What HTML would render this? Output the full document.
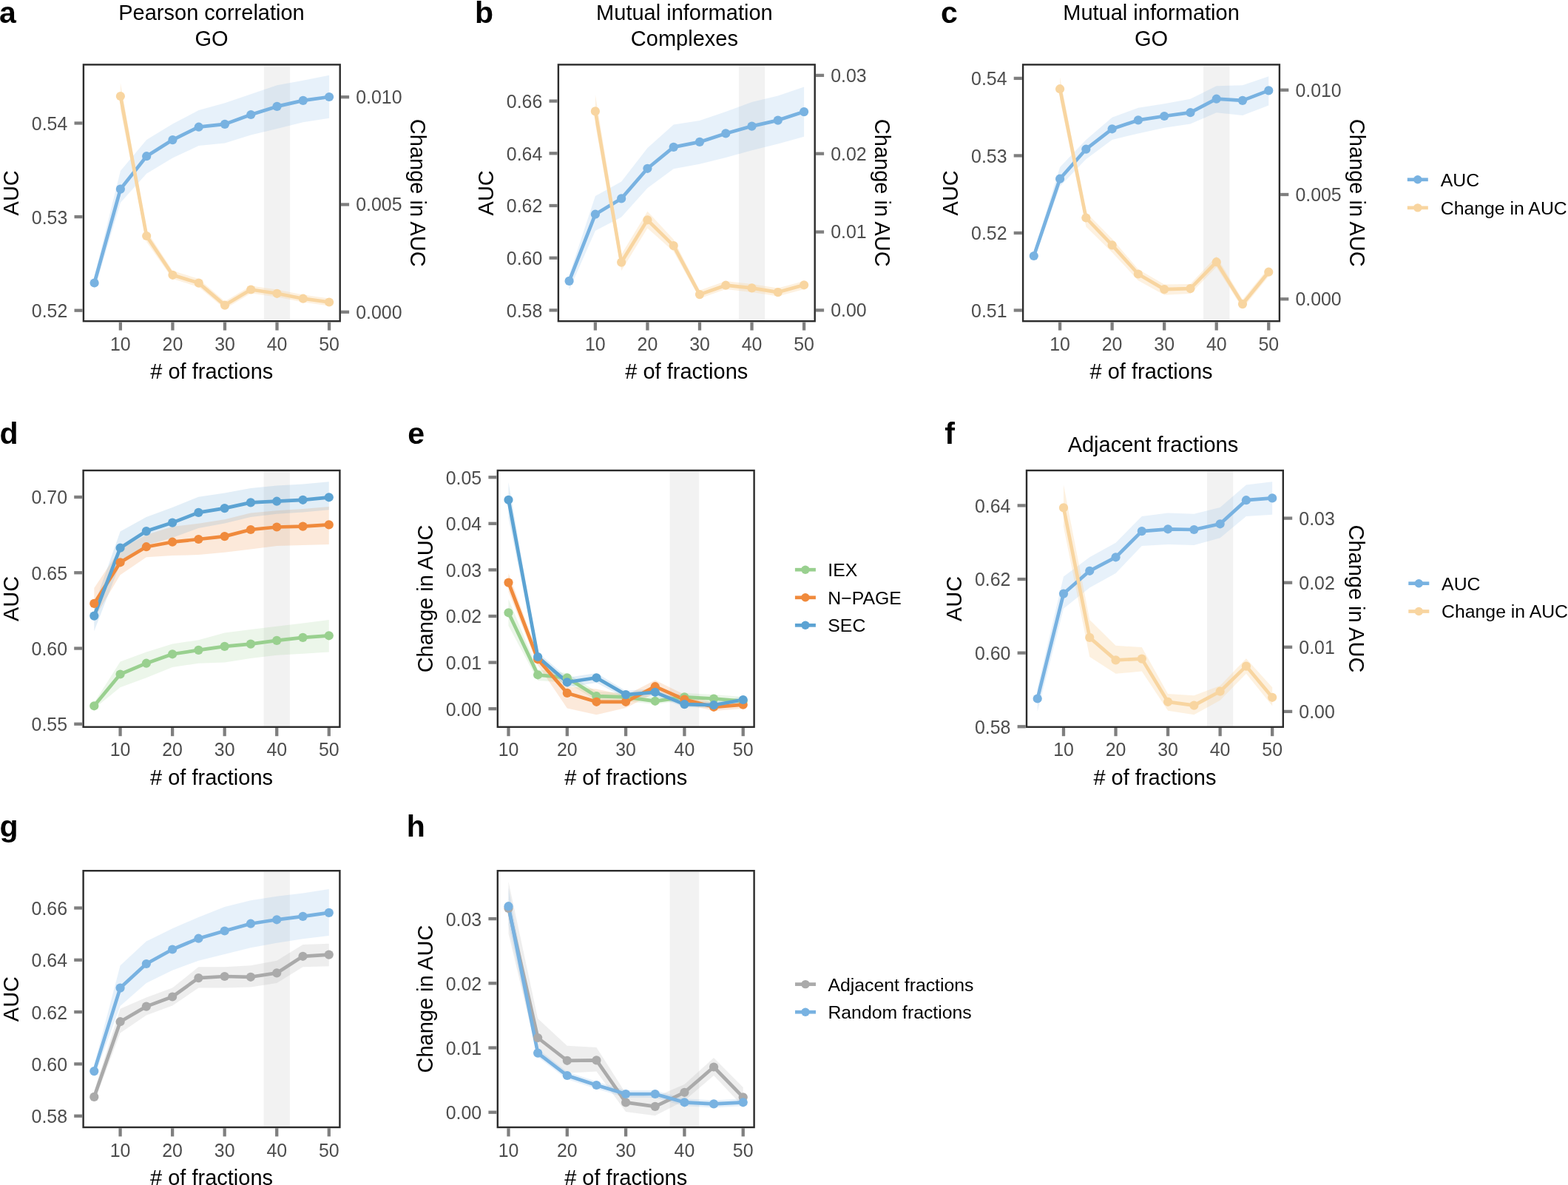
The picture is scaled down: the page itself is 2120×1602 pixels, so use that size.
<!DOCTYPE html>
<html><head><meta charset="utf-8"><title>Figure</title>
<style>html,body{margin:0;padding:0;background:#fff;}body{width:2120px;height:1602px;overflow:hidden;}svg{display:block;}</style>
</head><body>
<svg width="2120" height="1602" viewBox="0 0 2120 1602" font-family="'Liberation Sans', Arial, Helvetica, sans-serif"><rect x="356.89" y="88.6" width="35.28" height="344.4" fill="#f2f2f2"/>
<path d="M127.6,374 L162.88,231 L198.15,189 L233.43,167.4 L268.7,149 L303.98,139.3 L339.25,127.3 L374.52,115.3 L409.8,108.7 L445.07,101.8 L445.07,159.8 L409.8,165.2 L374.52,173.9 L339.25,182.6 L303.98,193.5 L268.7,197 L233.43,213.5 L198.15,234.7 L162.88,274 L127.6,392Z" fill="#78b2e1" fill-opacity="0.18"/>
<path d="M162.88,112 L198.15,312 L233.43,366 L268.7,377 L303.98,407.5 L339.25,386.5 L374.52,391.5 L409.8,398.5 L445.07,403.5 L445.07,413.5 L409.8,408.5 L374.52,401.5 L339.25,396.5 L303.98,417.5 L268.7,388 L233.43,377 L198.15,327 L162.88,148Z" fill="#f8d5a0" fill-opacity="0.32"/>
<path d="M127.6,382.5 L162.88,255.6 L198.15,211.2 L233.43,189.1 L268.7,171.7 L303.98,167.9 L339.25,155 L374.52,143.9 L409.8,135.9 L445.07,131" fill="none" stroke="#78b2e1" stroke-width="4.7" stroke-linejoin="round" stroke-linecap="butt"/>
<path d="M162.88,130 L198.15,319 L233.43,371.8 L268.7,382.6 L303.98,412.6 L339.25,391.5 L374.52,396.8 L409.8,403.7 L445.07,408.5" fill="none" stroke="#f8d5a0" stroke-width="4.7" stroke-linejoin="round" stroke-linecap="butt"/>
<circle cx="127.6" cy="382.5" r="6.1" fill="#78b2e1"/>
<circle cx="162.88" cy="255.6" r="6.1" fill="#78b2e1"/>
<circle cx="198.15" cy="211.2" r="6.1" fill="#78b2e1"/>
<circle cx="233.43" cy="189.1" r="6.1" fill="#78b2e1"/>
<circle cx="268.7" cy="171.7" r="6.1" fill="#78b2e1"/>
<circle cx="303.98" cy="167.9" r="6.1" fill="#78b2e1"/>
<circle cx="339.25" cy="155" r="6.1" fill="#78b2e1"/>
<circle cx="374.52" cy="143.9" r="6.1" fill="#78b2e1"/>
<circle cx="409.8" cy="135.9" r="6.1" fill="#78b2e1"/>
<circle cx="445.07" cy="131" r="6.1" fill="#78b2e1"/>
<circle cx="162.88" cy="130" r="6.1" fill="#f8d5a0"/>
<circle cx="198.15" cy="319" r="6.1" fill="#f8d5a0"/>
<circle cx="233.43" cy="371.8" r="6.1" fill="#f8d5a0"/>
<circle cx="268.7" cy="382.6" r="6.1" fill="#f8d5a0"/>
<circle cx="303.98" cy="412.6" r="6.1" fill="#f8d5a0"/>
<circle cx="339.25" cy="391.5" r="6.1" fill="#f8d5a0"/>
<circle cx="374.52" cy="396.8" r="6.1" fill="#f8d5a0"/>
<circle cx="409.8" cy="403.7" r="6.1" fill="#f8d5a0"/>
<circle cx="445.07" cy="408.5" r="6.1" fill="#f8d5a0"/>
<rect x="112.9" y="87.4" width="346.8" height="346.8" fill="none" stroke="#2b2b2b" stroke-width="2.4"/>
<line x1="162.88" y1="435.4" x2="162.88" y2="446.6" stroke="#7f7f7f" stroke-width="4.3"/>
<text x="162.88" y="473.8" font-size="24.9" fill="#4d4d4d" text-anchor="middle">10</text>
<line x1="233.43" y1="435.4" x2="233.43" y2="446.6" stroke="#7f7f7f" stroke-width="4.3"/>
<text x="233.43" y="473.8" font-size="24.9" fill="#4d4d4d" text-anchor="middle">20</text>
<line x1="303.98" y1="435.4" x2="303.98" y2="446.6" stroke="#7f7f7f" stroke-width="4.3"/>
<text x="303.98" y="473.8" font-size="24.9" fill="#4d4d4d" text-anchor="middle">30</text>
<line x1="374.52" y1="435.4" x2="374.52" y2="446.6" stroke="#7f7f7f" stroke-width="4.3"/>
<text x="374.52" y="473.8" font-size="24.9" fill="#4d4d4d" text-anchor="middle">40</text>
<line x1="445.07" y1="435.4" x2="445.07" y2="446.6" stroke="#7f7f7f" stroke-width="4.3"/>
<text x="445.07" y="473.8" font-size="24.9" fill="#4d4d4d" text-anchor="middle">50</text>
<text x="286.3" y="512.1" font-size="29" fill="#000" text-anchor="middle"># of fractions</text>
<line x1="100.5" y1="419.7" x2="111.7" y2="419.7" stroke="#7f7f7f" stroke-width="4.3"/>
<text x="91.3" y="429.1" font-size="24.9" fill="#4d4d4d" text-anchor="end">0.52</text>
<line x1="100.5" y1="293.1" x2="111.7" y2="293.1" stroke="#7f7f7f" stroke-width="4.3"/>
<text x="91.3" y="302.5" font-size="24.9" fill="#4d4d4d" text-anchor="end">0.53</text>
<line x1="100.5" y1="166.5" x2="111.7" y2="166.5" stroke="#7f7f7f" stroke-width="4.3"/>
<text x="91.3" y="175.9" font-size="24.9" fill="#4d4d4d" text-anchor="end">0.54</text>
<line x1="460.9" y1="421.8" x2="472.1" y2="421.8" stroke="#7f7f7f" stroke-width="4.3"/>
<text x="481.2" y="430.7" font-size="24.9" fill="#4d4d4d">0.000</text>
<line x1="460.9" y1="276.5" x2="472.1" y2="276.5" stroke="#7f7f7f" stroke-width="4.3"/>
<text x="481.2" y="285.4" font-size="24.9" fill="#4d4d4d">0.005</text>
<line x1="460.9" y1="131.2" x2="472.1" y2="131.2" stroke="#7f7f7f" stroke-width="4.3"/>
<text x="481.2" y="140.1" font-size="24.9" fill="#4d4d4d">0.010</text>
<text x="24.8" y="260.8" font-size="29" fill="#000" text-anchor="middle" transform="rotate(-90 24.8 260.8)">AUC</text>
<text x="555.3" y="260.8" font-size="29" fill="#000" text-anchor="middle" transform="rotate(90 555.3 260.8)">Change in AUC</text>
<text x="-1" y="30.5" font-size="41" fill="#000" font-weight="bold">a</text>
<text x="286" y="26.7" font-size="29" fill="#000" text-anchor="middle">Pearson correlation</text>
<text x="286" y="61.6" font-size="29" fill="#000" text-anchor="middle">GO</text>
<rect x="998.89" y="88.6" width="35.27" height="344.4" fill="#f2f2f2"/>
<path d="M769.6,372 L804.88,265.1 L840.15,245.6 L875.42,200 L910.7,168.5 L945.98,163 L981.25,151.1 L1016.52,138 L1051.8,129.4 L1087.08,117.4 L1087.08,184.8 L1051.8,194.5 L1016.52,203.2 L981.25,213 L945.98,221.7 L910.7,228.2 L875.42,254.3 L840.15,293.4 L804.88,311.9 L769.6,392Z" fill="#78b2e1" fill-opacity="0.18"/>
<path d="M804.88,128.3 L840.15,344 L875.42,285.8 L910.7,323.8 L945.98,392.5 L981.25,380 L1016.52,384 L1051.8,389.5 L1087.08,380 L1087.08,391 L1051.8,400.5 L1016.52,395 L981.25,391 L945.98,403.5 L910.7,340 L875.42,308.6 L840.15,366 L804.88,168Z" fill="#f8d5a0" fill-opacity="0.32"/>
<path d="M769.6,379.9 L804.88,289.7 L840.15,268.4 L875.42,227.8 L910.7,198.9 L945.98,191.9 L981.25,180.4 L1016.52,170.6 L1051.8,162.6 L1087.08,151.1" fill="none" stroke="#78b2e1" stroke-width="4.7" stroke-linejoin="round" stroke-linecap="butt"/>
<path d="M804.88,150.4 L840.15,354.6 L875.42,297.3 L910.7,332.1 L945.98,398.1 L981.25,385.7 L1016.52,389.4 L1051.8,395.1 L1087.08,385.3" fill="none" stroke="#f8d5a0" stroke-width="4.7" stroke-linejoin="round" stroke-linecap="butt"/>
<circle cx="769.6" cy="379.9" r="6.1" fill="#78b2e1"/>
<circle cx="804.88" cy="289.7" r="6.1" fill="#78b2e1"/>
<circle cx="840.15" cy="268.4" r="6.1" fill="#78b2e1"/>
<circle cx="875.42" cy="227.8" r="6.1" fill="#78b2e1"/>
<circle cx="910.7" cy="198.9" r="6.1" fill="#78b2e1"/>
<circle cx="945.98" cy="191.9" r="6.1" fill="#78b2e1"/>
<circle cx="981.25" cy="180.4" r="6.1" fill="#78b2e1"/>
<circle cx="1016.52" cy="170.6" r="6.1" fill="#78b2e1"/>
<circle cx="1051.8" cy="162.6" r="6.1" fill="#78b2e1"/>
<circle cx="1087.08" cy="151.1" r="6.1" fill="#78b2e1"/>
<circle cx="804.88" cy="150.4" r="6.1" fill="#f8d5a0"/>
<circle cx="840.15" cy="354.6" r="6.1" fill="#f8d5a0"/>
<circle cx="875.42" cy="297.3" r="6.1" fill="#f8d5a0"/>
<circle cx="910.7" cy="332.1" r="6.1" fill="#f8d5a0"/>
<circle cx="945.98" cy="398.1" r="6.1" fill="#f8d5a0"/>
<circle cx="981.25" cy="385.7" r="6.1" fill="#f8d5a0"/>
<circle cx="1016.52" cy="389.4" r="6.1" fill="#f8d5a0"/>
<circle cx="1051.8" cy="395.1" r="6.1" fill="#f8d5a0"/>
<circle cx="1087.08" cy="385.3" r="6.1" fill="#f8d5a0"/>
<rect x="754.9" y="87.4" width="346.8" height="346.8" fill="none" stroke="#2b2b2b" stroke-width="2.4"/>
<line x1="804.88" y1="435.4" x2="804.88" y2="446.6" stroke="#7f7f7f" stroke-width="4.3"/>
<text x="804.88" y="473.8" font-size="24.9" fill="#4d4d4d" text-anchor="middle">10</text>
<line x1="875.42" y1="435.4" x2="875.42" y2="446.6" stroke="#7f7f7f" stroke-width="4.3"/>
<text x="875.42" y="473.8" font-size="24.9" fill="#4d4d4d" text-anchor="middle">20</text>
<line x1="945.98" y1="435.4" x2="945.98" y2="446.6" stroke="#7f7f7f" stroke-width="4.3"/>
<text x="945.98" y="473.8" font-size="24.9" fill="#4d4d4d" text-anchor="middle">30</text>
<line x1="1016.52" y1="435.4" x2="1016.52" y2="446.6" stroke="#7f7f7f" stroke-width="4.3"/>
<text x="1016.52" y="473.8" font-size="24.9" fill="#4d4d4d" text-anchor="middle">40</text>
<line x1="1087.08" y1="435.4" x2="1087.08" y2="446.6" stroke="#7f7f7f" stroke-width="4.3"/>
<text x="1087.08" y="473.8" font-size="24.9" fill="#4d4d4d" text-anchor="middle">50</text>
<text x="928.3" y="512.1" font-size="29" fill="#000" text-anchor="middle"># of fractions</text>
<line x1="742.5" y1="419.4" x2="753.7" y2="419.4" stroke="#7f7f7f" stroke-width="4.3"/>
<text x="733.3" y="428.8" font-size="24.9" fill="#4d4d4d" text-anchor="end">0.58</text>
<line x1="742.5" y1="348.7" x2="753.7" y2="348.7" stroke="#7f7f7f" stroke-width="4.3"/>
<text x="733.3" y="358.1" font-size="24.9" fill="#4d4d4d" text-anchor="end">0.60</text>
<line x1="742.5" y1="278" x2="753.7" y2="278" stroke="#7f7f7f" stroke-width="4.3"/>
<text x="733.3" y="287.4" font-size="24.9" fill="#4d4d4d" text-anchor="end">0.62</text>
<line x1="742.5" y1="207.3" x2="753.7" y2="207.3" stroke="#7f7f7f" stroke-width="4.3"/>
<text x="733.3" y="216.7" font-size="24.9" fill="#4d4d4d" text-anchor="end">0.64</text>
<line x1="742.5" y1="136.6" x2="753.7" y2="136.6" stroke="#7f7f7f" stroke-width="4.3"/>
<text x="733.3" y="146" font-size="24.9" fill="#4d4d4d" text-anchor="end">0.66</text>
<line x1="1102.9" y1="419.4" x2="1114.1" y2="419.4" stroke="#7f7f7f" stroke-width="4.3"/>
<text x="1123.2" y="428.3" font-size="24.9" fill="#4d4d4d">0.00</text>
<line x1="1102.9" y1="313.57" x2="1114.1" y2="313.57" stroke="#7f7f7f" stroke-width="4.3"/>
<text x="1123.2" y="322.47" font-size="24.9" fill="#4d4d4d">0.01</text>
<line x1="1102.9" y1="207.73" x2="1114.1" y2="207.73" stroke="#7f7f7f" stroke-width="4.3"/>
<text x="1123.2" y="216.63" font-size="24.9" fill="#4d4d4d">0.02</text>
<line x1="1102.9" y1="101.9" x2="1114.1" y2="101.9" stroke="#7f7f7f" stroke-width="4.3"/>
<text x="1123.2" y="110.8" font-size="24.9" fill="#4d4d4d">0.03</text>
<text x="667" y="260.8" font-size="29" fill="#000" text-anchor="middle" transform="rotate(-90 667 260.8)">AUC</text>
<text x="1183" y="260.8" font-size="29" fill="#000" text-anchor="middle" transform="rotate(90 1183 260.8)">Change in AUC</text>
<text x="642" y="30.5" font-size="41" fill="#000" font-weight="bold">b</text>
<text x="925.4" y="26.7" font-size="29" fill="#000" text-anchor="middle">Mutual information</text>
<text x="925.4" y="61.6" font-size="29" fill="#000" text-anchor="middle">Complexes</text>
<rect x="1627.09" y="88.6" width="35.28" height="344.4" fill="#f2f2f2"/>
<path d="M1397.8,341 L1433.08,226 L1468.35,189.1 L1503.62,158.7 L1538.9,145.7 L1574.17,140.2 L1609.45,133.7 L1644.72,116.3 L1680,115.2 L1715.27,103.3 L1715.27,142.4 L1680,156.1 L1644.72,152.2 L1609.45,167.4 L1574.17,172.8 L1538.9,180.4 L1503.62,189.1 L1468.35,215.2 L1433.08,252.1 L1397.8,351Z" fill="#78b2e1" fill-opacity="0.18"/>
<path d="M1433.08,104.4 L1468.35,286.9 L1503.62,322.7 L1538.9,364 L1574.17,384.6 L1609.45,384 L1644.72,346.6 L1680,405 L1715.27,362 L1715.27,373.5 L1680,417 L1644.72,361 L1609.45,397 L1574.17,398.7 L1538.9,379.2 L1503.62,341.2 L1468.35,306.4 L1433.08,134Z" fill="#f8d5a0" fill-opacity="0.32"/>
<path d="M1397.8,346 L1433.08,241.7 L1468.35,201.7 L1503.62,174.3 L1538.9,162.4 L1574.17,157 L1609.45,152.2 L1644.72,133.7 L1680,135.9 L1715.27,122.4" fill="none" stroke="#78b2e1" stroke-width="4.7" stroke-linejoin="round" stroke-linecap="butt"/>
<path d="M1433.08,120.2 L1468.35,294.5 L1503.62,331.4 L1538.9,370.5 L1574.17,391.1 L1609.45,390.1 L1644.72,354.2 L1680,411.1 L1715.27,367.7" fill="none" stroke="#f8d5a0" stroke-width="4.7" stroke-linejoin="round" stroke-linecap="butt"/>
<circle cx="1397.8" cy="346" r="6.1" fill="#78b2e1"/>
<circle cx="1433.08" cy="241.7" r="6.1" fill="#78b2e1"/>
<circle cx="1468.35" cy="201.7" r="6.1" fill="#78b2e1"/>
<circle cx="1503.62" cy="174.3" r="6.1" fill="#78b2e1"/>
<circle cx="1538.9" cy="162.4" r="6.1" fill="#78b2e1"/>
<circle cx="1574.17" cy="157" r="6.1" fill="#78b2e1"/>
<circle cx="1609.45" cy="152.2" r="6.1" fill="#78b2e1"/>
<circle cx="1644.72" cy="133.7" r="6.1" fill="#78b2e1"/>
<circle cx="1680" cy="135.9" r="6.1" fill="#78b2e1"/>
<circle cx="1715.27" cy="122.4" r="6.1" fill="#78b2e1"/>
<circle cx="1433.08" cy="120.2" r="6.1" fill="#f8d5a0"/>
<circle cx="1468.35" cy="294.5" r="6.1" fill="#f8d5a0"/>
<circle cx="1503.62" cy="331.4" r="6.1" fill="#f8d5a0"/>
<circle cx="1538.9" cy="370.5" r="6.1" fill="#f8d5a0"/>
<circle cx="1574.17" cy="391.1" r="6.1" fill="#f8d5a0"/>
<circle cx="1609.45" cy="390.1" r="6.1" fill="#f8d5a0"/>
<circle cx="1644.72" cy="354.2" r="6.1" fill="#f8d5a0"/>
<circle cx="1680" cy="411.1" r="6.1" fill="#f8d5a0"/>
<circle cx="1715.27" cy="367.7" r="6.1" fill="#f8d5a0"/>
<rect x="1383.1" y="87.4" width="346.8" height="346.8" fill="none" stroke="#2b2b2b" stroke-width="2.4"/>
<line x1="1433.08" y1="435.4" x2="1433.08" y2="446.6" stroke="#7f7f7f" stroke-width="4.3"/>
<text x="1433.08" y="473.8" font-size="24.9" fill="#4d4d4d" text-anchor="middle">10</text>
<line x1="1503.62" y1="435.4" x2="1503.62" y2="446.6" stroke="#7f7f7f" stroke-width="4.3"/>
<text x="1503.62" y="473.8" font-size="24.9" fill="#4d4d4d" text-anchor="middle">20</text>
<line x1="1574.17" y1="435.4" x2="1574.17" y2="446.6" stroke="#7f7f7f" stroke-width="4.3"/>
<text x="1574.17" y="473.8" font-size="24.9" fill="#4d4d4d" text-anchor="middle">30</text>
<line x1="1644.72" y1="435.4" x2="1644.72" y2="446.6" stroke="#7f7f7f" stroke-width="4.3"/>
<text x="1644.72" y="473.8" font-size="24.9" fill="#4d4d4d" text-anchor="middle">40</text>
<line x1="1715.27" y1="435.4" x2="1715.27" y2="446.6" stroke="#7f7f7f" stroke-width="4.3"/>
<text x="1715.27" y="473.8" font-size="24.9" fill="#4d4d4d" text-anchor="middle">50</text>
<text x="1556.5" y="512.1" font-size="29" fill="#000" text-anchor="middle"># of fractions</text>
<line x1="1370.7" y1="419.5" x2="1381.9" y2="419.5" stroke="#7f7f7f" stroke-width="4.3"/>
<text x="1361.5" y="428.9" font-size="24.9" fill="#4d4d4d" text-anchor="end">0.51</text>
<line x1="1370.7" y1="314.97" x2="1381.9" y2="314.97" stroke="#7f7f7f" stroke-width="4.3"/>
<text x="1361.5" y="324.37" font-size="24.9" fill="#4d4d4d" text-anchor="end">0.52</text>
<line x1="1370.7" y1="210.43" x2="1381.9" y2="210.43" stroke="#7f7f7f" stroke-width="4.3"/>
<text x="1361.5" y="219.83" font-size="24.9" fill="#4d4d4d" text-anchor="end">0.53</text>
<line x1="1370.7" y1="105.9" x2="1381.9" y2="105.9" stroke="#7f7f7f" stroke-width="4.3"/>
<text x="1361.5" y="115.3" font-size="24.9" fill="#4d4d4d" text-anchor="end">0.54</text>
<line x1="1731.1" y1="404.3" x2="1742.3" y2="404.3" stroke="#7f7f7f" stroke-width="4.3"/>
<text x="1751.4" y="413.2" font-size="24.9" fill="#4d4d4d">0.000</text>
<line x1="1731.1" y1="263" x2="1742.3" y2="263" stroke="#7f7f7f" stroke-width="4.3"/>
<text x="1751.4" y="271.9" font-size="24.9" fill="#4d4d4d">0.005</text>
<line x1="1731.1" y1="121.7" x2="1742.3" y2="121.7" stroke="#7f7f7f" stroke-width="4.3"/>
<text x="1751.4" y="130.6" font-size="24.9" fill="#4d4d4d">0.010</text>
<text x="1295.5" y="260.8" font-size="29" fill="#000" text-anchor="middle" transform="rotate(-90 1295.5 260.8)">AUC</text>
<text x="1824.7" y="260.8" font-size="29" fill="#000" text-anchor="middle" transform="rotate(90 1824.7 260.8)">Change in AUC</text>
<text x="1272" y="30.5" font-size="41" fill="#000" font-weight="bold">c</text>
<text x="1556.5" y="26.7" font-size="29" fill="#000" text-anchor="middle">Mutual information</text>
<text x="1556.5" y="61.6" font-size="29" fill="#000" text-anchor="middle">GO</text>
<rect x="356.59" y="637.2" width="35.28" height="344.4" fill="#f2f2f2"/>
<path d="M127.3,950 L162.57,894.5 L197.85,881.5 L233.12,870.6 L268.4,865.2 L303.68,855.4 L338.95,851.1 L374.22,846.7 L409.5,842.4 L444.77,838 L444.77,881.5 L409.5,883.7 L374.22,885.8 L338.95,890 L303.68,895.6 L268.4,896.7 L233.12,902.1 L197.85,916.3 L162.57,929.3 L127.3,958Z" fill="#99d08f" fill-opacity="0.19"/>
<path d="M127.3,795 L162.57,742 L197.85,722.9 L233.12,712 L268.4,707.7 L303.68,702.3 L338.95,693.6 L374.22,690.3 L409.5,688.1 L444.77,684.9 L444.77,735.9 L409.5,737 L374.22,738.1 L338.95,742.5 L303.68,746.8 L268.4,750 L233.12,751.1 L197.85,753.3 L162.57,777.2 L127.3,836Z" fill="#f08a3c" fill-opacity="0.19"/>
<path d="M127.3,818.5 L162.57,718.6 L197.85,699 L233.12,686 L268.4,671.8 L303.68,666.4 L338.95,659.9 L374.22,656.6 L409.5,654.5 L444.77,651.2 L444.77,689.2 L409.5,692.5 L374.22,694.7 L338.95,699 L303.68,707.5 L268.4,714 L233.12,727 L197.85,737 L162.57,762 L127.3,853.2Z" fill="#5ca3d3" fill-opacity="0.18"/>
<path d="M127.3,954.3 L162.57,911.5 L197.85,896.7 L233.12,884.3 L268.4,878.9 L303.68,873.9 L338.95,870.6 L374.22,865.9 L409.5,861.9 L444.77,859.3" fill="none" stroke="#99d08f" stroke-width="4.7" stroke-linejoin="round" stroke-linecap="butt"/>
<path d="M127.3,815.9 L162.57,760.3 L197.85,739.2 L233.12,732.7 L268.4,729 L303.68,725.1 L338.95,716 L374.22,712.5 L409.5,711.6 L444.77,709.4" fill="none" stroke="#f08a3c" stroke-width="4.7" stroke-linejoin="round" stroke-linecap="butt"/>
<path d="M127.3,832.6 L162.57,740.7 L197.85,718.1 L233.12,706.6 L268.4,692.9 L303.68,687.1 L338.95,679.4 L374.22,677.7 L409.5,675.8 L444.77,672.3" fill="none" stroke="#5ca3d3" stroke-width="4.7" stroke-linejoin="round" stroke-linecap="butt"/>
<circle cx="127.3" cy="954.3" r="6.1" fill="#99d08f"/>
<circle cx="162.57" cy="911.5" r="6.1" fill="#99d08f"/>
<circle cx="197.85" cy="896.7" r="6.1" fill="#99d08f"/>
<circle cx="233.12" cy="884.3" r="6.1" fill="#99d08f"/>
<circle cx="268.4" cy="878.9" r="6.1" fill="#99d08f"/>
<circle cx="303.68" cy="873.9" r="6.1" fill="#99d08f"/>
<circle cx="338.95" cy="870.6" r="6.1" fill="#99d08f"/>
<circle cx="374.22" cy="865.9" r="6.1" fill="#99d08f"/>
<circle cx="409.5" cy="861.9" r="6.1" fill="#99d08f"/>
<circle cx="444.77" cy="859.3" r="6.1" fill="#99d08f"/>
<circle cx="127.3" cy="815.9" r="6.1" fill="#f08a3c"/>
<circle cx="162.57" cy="760.3" r="6.1" fill="#f08a3c"/>
<circle cx="197.85" cy="739.2" r="6.1" fill="#f08a3c"/>
<circle cx="233.12" cy="732.7" r="6.1" fill="#f08a3c"/>
<circle cx="268.4" cy="729" r="6.1" fill="#f08a3c"/>
<circle cx="303.68" cy="725.1" r="6.1" fill="#f08a3c"/>
<circle cx="338.95" cy="716" r="6.1" fill="#f08a3c"/>
<circle cx="374.22" cy="712.5" r="6.1" fill="#f08a3c"/>
<circle cx="409.5" cy="711.6" r="6.1" fill="#f08a3c"/>
<circle cx="444.77" cy="709.4" r="6.1" fill="#f08a3c"/>
<circle cx="127.3" cy="832.6" r="6.1" fill="#5ca3d3"/>
<circle cx="162.57" cy="740.7" r="6.1" fill="#5ca3d3"/>
<circle cx="197.85" cy="718.1" r="6.1" fill="#5ca3d3"/>
<circle cx="233.12" cy="706.6" r="6.1" fill="#5ca3d3"/>
<circle cx="268.4" cy="692.9" r="6.1" fill="#5ca3d3"/>
<circle cx="303.68" cy="687.1" r="6.1" fill="#5ca3d3"/>
<circle cx="338.95" cy="679.4" r="6.1" fill="#5ca3d3"/>
<circle cx="374.22" cy="677.7" r="6.1" fill="#5ca3d3"/>
<circle cx="409.5" cy="675.8" r="6.1" fill="#5ca3d3"/>
<circle cx="444.77" cy="672.3" r="6.1" fill="#5ca3d3"/>
<rect x="112.6" y="636" width="346.8" height="346.8" fill="none" stroke="#2b2b2b" stroke-width="2.4"/>
<line x1="162.57" y1="984" x2="162.57" y2="995.2" stroke="#7f7f7f" stroke-width="4.3"/>
<text x="162.57" y="1022.4" font-size="24.9" fill="#4d4d4d" text-anchor="middle">10</text>
<line x1="233.12" y1="984" x2="233.12" y2="995.2" stroke="#7f7f7f" stroke-width="4.3"/>
<text x="233.12" y="1022.4" font-size="24.9" fill="#4d4d4d" text-anchor="middle">20</text>
<line x1="303.68" y1="984" x2="303.68" y2="995.2" stroke="#7f7f7f" stroke-width="4.3"/>
<text x="303.68" y="1022.4" font-size="24.9" fill="#4d4d4d" text-anchor="middle">30</text>
<line x1="374.22" y1="984" x2="374.22" y2="995.2" stroke="#7f7f7f" stroke-width="4.3"/>
<text x="374.22" y="1022.4" font-size="24.9" fill="#4d4d4d" text-anchor="middle">40</text>
<line x1="444.77" y1="984" x2="444.77" y2="995.2" stroke="#7f7f7f" stroke-width="4.3"/>
<text x="444.77" y="1022.4" font-size="24.9" fill="#4d4d4d" text-anchor="middle">50</text>
<text x="286" y="1060.7" font-size="29" fill="#000" text-anchor="middle"># of fractions</text>
<line x1="100.2" y1="978.8" x2="111.4" y2="978.8" stroke="#7f7f7f" stroke-width="4.3"/>
<text x="91" y="988.2" font-size="24.9" fill="#4d4d4d" text-anchor="end">0.55</text>
<line x1="100.2" y1="876.53" x2="111.4" y2="876.53" stroke="#7f7f7f" stroke-width="4.3"/>
<text x="91" y="885.93" font-size="24.9" fill="#4d4d4d" text-anchor="end">0.60</text>
<line x1="100.2" y1="774.27" x2="111.4" y2="774.27" stroke="#7f7f7f" stroke-width="4.3"/>
<text x="91" y="783.67" font-size="24.9" fill="#4d4d4d" text-anchor="end">0.65</text>
<line x1="100.2" y1="672" x2="111.4" y2="672" stroke="#7f7f7f" stroke-width="4.3"/>
<text x="91" y="681.4" font-size="24.9" fill="#4d4d4d" text-anchor="end">0.70</text>
<text x="25" y="809.4" font-size="29" fill="#000" text-anchor="middle" transform="rotate(-90 25 809.4)">AUC</text>
<text x="-0.5" y="599.6" font-size="41" fill="#000" font-weight="bold">d</text>
<rect x="905.58" y="637.2" width="39.65" height="344.4" fill="#f2f2f2"/>
<path d="M687.5,810 L727.15,905 L766.8,910 L806.45,935 L846.1,937 L885.75,943 L925.4,937 L965.05,939 L1004.7,942 L1004.7,953 L965.05,950 L925.4,947 L885.75,952 L846.1,948 L806.45,947 L766.8,923 L727.15,920 L687.5,846Z" fill="#99d08f" fill-opacity="0.19"/>
<path d="M687.5,775 L727.15,884 L766.8,928 L806.45,931.5 L846.1,940 L885.75,919.5 L925.4,939 L965.05,950 L1004.7,947 L1004.7,958 L965.05,961 L925.4,952 L885.75,937 L846.1,957 L806.45,966.2 L766.8,957.5 L727.15,899 L687.5,800Z" fill="#f08a3c" fill-opacity="0.19"/>
<path d="M687.5,652 L727.15,882 L766.8,916 L806.45,910 L846.1,934 L885.75,931 L925.4,948 L965.05,949 L1004.7,942 L1004.7,950 L965.05,957 L925.4,956 L885.75,941 L846.1,944 L806.45,923 L766.8,929 L727.15,894 L687.5,700Z" fill="#5ca3d3" fill-opacity="0.18"/>
<path d="M687.5,828.3 L727.15,912.3 L766.8,916.3 L806.45,941.2 L846.1,942.3 L885.75,947.8 L925.4,942.3 L965.05,944.5 L1004.7,947.8" fill="none" stroke="#99d08f" stroke-width="4.7" stroke-linejoin="round" stroke-linecap="butt"/>
<path d="M687.5,787.6 L727.15,891.3 L766.8,936.9 L806.45,948.8 L846.1,948.8 L885.75,928.2 L925.4,945.6 L965.05,955.8 L1004.7,952.7" fill="none" stroke="#f08a3c" stroke-width="4.7" stroke-linejoin="round" stroke-linecap="butt"/>
<path d="M687.5,675.8 L727.15,888 L766.8,922.3 L806.45,916.3 L846.1,939.1 L885.75,935.8 L925.4,952.1 L965.05,953.2 L1004.7,946" fill="none" stroke="#5ca3d3" stroke-width="4.7" stroke-linejoin="round" stroke-linecap="butt"/>
<circle cx="687.5" cy="828.3" r="6.1" fill="#99d08f"/>
<circle cx="727.15" cy="912.3" r="6.1" fill="#99d08f"/>
<circle cx="766.8" cy="916.3" r="6.1" fill="#99d08f"/>
<circle cx="806.45" cy="941.2" r="6.1" fill="#99d08f"/>
<circle cx="846.1" cy="942.3" r="6.1" fill="#99d08f"/>
<circle cx="885.75" cy="947.8" r="6.1" fill="#99d08f"/>
<circle cx="925.4" cy="942.3" r="6.1" fill="#99d08f"/>
<circle cx="965.05" cy="944.5" r="6.1" fill="#99d08f"/>
<circle cx="1004.7" cy="947.8" r="6.1" fill="#99d08f"/>
<circle cx="687.5" cy="787.6" r="6.1" fill="#f08a3c"/>
<circle cx="727.15" cy="891.3" r="6.1" fill="#f08a3c"/>
<circle cx="766.8" cy="936.9" r="6.1" fill="#f08a3c"/>
<circle cx="806.45" cy="948.8" r="6.1" fill="#f08a3c"/>
<circle cx="846.1" cy="948.8" r="6.1" fill="#f08a3c"/>
<circle cx="885.75" cy="928.2" r="6.1" fill="#f08a3c"/>
<circle cx="925.4" cy="945.6" r="6.1" fill="#f08a3c"/>
<circle cx="965.05" cy="955.8" r="6.1" fill="#f08a3c"/>
<circle cx="1004.7" cy="952.7" r="6.1" fill="#f08a3c"/>
<circle cx="687.5" cy="675.8" r="6.1" fill="#5ca3d3"/>
<circle cx="727.15" cy="888" r="6.1" fill="#5ca3d3"/>
<circle cx="766.8" cy="922.3" r="6.1" fill="#5ca3d3"/>
<circle cx="806.45" cy="916.3" r="6.1" fill="#5ca3d3"/>
<circle cx="846.1" cy="939.1" r="6.1" fill="#5ca3d3"/>
<circle cx="885.75" cy="935.8" r="6.1" fill="#5ca3d3"/>
<circle cx="925.4" cy="952.1" r="6.1" fill="#5ca3d3"/>
<circle cx="965.05" cy="953.2" r="6.1" fill="#5ca3d3"/>
<circle cx="1004.7" cy="946" r="6.1" fill="#5ca3d3"/>
<rect x="672.8" y="636" width="346.8" height="346.8" fill="none" stroke="#2b2b2b" stroke-width="2.4"/>
<line x1="687.5" y1="984" x2="687.5" y2="995.2" stroke="#7f7f7f" stroke-width="4.3"/>
<text x="687.5" y="1022.4" font-size="24.9" fill="#4d4d4d" text-anchor="middle">10</text>
<line x1="766.8" y1="984" x2="766.8" y2="995.2" stroke="#7f7f7f" stroke-width="4.3"/>
<text x="766.8" y="1022.4" font-size="24.9" fill="#4d4d4d" text-anchor="middle">20</text>
<line x1="846.1" y1="984" x2="846.1" y2="995.2" stroke="#7f7f7f" stroke-width="4.3"/>
<text x="846.1" y="1022.4" font-size="24.9" fill="#4d4d4d" text-anchor="middle">30</text>
<line x1="925.4" y1="984" x2="925.4" y2="995.2" stroke="#7f7f7f" stroke-width="4.3"/>
<text x="925.4" y="1022.4" font-size="24.9" fill="#4d4d4d" text-anchor="middle">40</text>
<line x1="1004.7" y1="984" x2="1004.7" y2="995.2" stroke="#7f7f7f" stroke-width="4.3"/>
<text x="1004.7" y="1022.4" font-size="24.9" fill="#4d4d4d" text-anchor="middle">50</text>
<text x="846.2" y="1060.7" font-size="29" fill="#000" text-anchor="middle"># of fractions</text>
<line x1="660.4" y1="958.2" x2="671.6" y2="958.2" stroke="#7f7f7f" stroke-width="4.3"/>
<text x="651.2" y="967.6" font-size="24.9" fill="#4d4d4d" text-anchor="end">0.00</text>
<line x1="660.4" y1="895.6" x2="671.6" y2="895.6" stroke="#7f7f7f" stroke-width="4.3"/>
<text x="651.2" y="905" font-size="24.9" fill="#4d4d4d" text-anchor="end">0.01</text>
<line x1="660.4" y1="833" x2="671.6" y2="833" stroke="#7f7f7f" stroke-width="4.3"/>
<text x="651.2" y="842.4" font-size="24.9" fill="#4d4d4d" text-anchor="end">0.02</text>
<line x1="660.4" y1="770.4" x2="671.6" y2="770.4" stroke="#7f7f7f" stroke-width="4.3"/>
<text x="651.2" y="779.8" font-size="24.9" fill="#4d4d4d" text-anchor="end">0.03</text>
<line x1="660.4" y1="707.8" x2="671.6" y2="707.8" stroke="#7f7f7f" stroke-width="4.3"/>
<text x="651.2" y="717.2" font-size="24.9" fill="#4d4d4d" text-anchor="end">0.04</text>
<line x1="660.4" y1="645.2" x2="671.6" y2="645.2" stroke="#7f7f7f" stroke-width="4.3"/>
<text x="651.2" y="654.6" font-size="24.9" fill="#4d4d4d" text-anchor="end">0.05</text>
<text x="585" y="809.4" font-size="29" fill="#000" text-anchor="middle" transform="rotate(-90 585 809.4)">Change in AUC</text>
<text x="551.3" y="599.6" font-size="41" fill="#000" font-weight="bold">e</text>
<rect x="1631.99" y="637.2" width="35.28" height="344.4" fill="#f2f2f2"/>
<path d="M1402.7,930 L1437.98,779.4 L1473.25,753.3 L1508.53,733.8 L1543.8,697.9 L1579.08,693.6 L1614.35,694.7 L1649.62,686 L1684.9,655.6 L1720.17,651.2 L1720.17,695.7 L1684.9,697.9 L1649.62,727.2 L1614.35,737 L1579.08,735.9 L1543.8,738 L1508.53,775 L1473.25,794.6 L1437.98,822.8 L1402.7,962Z" fill="#78b2e1" fill-opacity="0.18"/>
<path d="M1437.98,655.6 L1473.25,838 L1508.53,872.8 L1543.8,875 L1579.08,938 L1614.35,940.2 L1649.62,927.1 L1684.9,890.2 L1720.17,929.3 L1720.17,954.3 L1684.9,910.8 L1649.62,946.7 L1614.35,966.2 L1579.08,960.8 L1543.8,907.6 L1508.53,910.8 L1473.25,888 L1437.98,712Z" fill="#f8d5a0" fill-opacity="0.32"/>
<path d="M1402.7,944.5 L1437.98,802.6 L1473.25,771.8 L1508.53,753.3 L1543.8,718.1 L1579.08,715.3 L1614.35,716 L1649.62,708.3 L1684.9,676.2 L1720.17,673.4" fill="none" stroke="#78b2e1" stroke-width="4.7" stroke-linejoin="round" stroke-linecap="butt"/>
<path d="M1437.98,686.4 L1473.25,861.9 L1508.53,892.4 L1543.8,890.6 L1579.08,948.8 L1614.35,953.6 L1649.62,934.7 L1684.9,900.6 L1720.17,942.8" fill="none" stroke="#f8d5a0" stroke-width="4.7" stroke-linejoin="round" stroke-linecap="butt"/>
<circle cx="1402.7" cy="944.5" r="6.1" fill="#78b2e1"/>
<circle cx="1437.98" cy="802.6" r="6.1" fill="#78b2e1"/>
<circle cx="1473.25" cy="771.8" r="6.1" fill="#78b2e1"/>
<circle cx="1508.53" cy="753.3" r="6.1" fill="#78b2e1"/>
<circle cx="1543.8" cy="718.1" r="6.1" fill="#78b2e1"/>
<circle cx="1579.08" cy="715.3" r="6.1" fill="#78b2e1"/>
<circle cx="1614.35" cy="716" r="6.1" fill="#78b2e1"/>
<circle cx="1649.62" cy="708.3" r="6.1" fill="#78b2e1"/>
<circle cx="1684.9" cy="676.2" r="6.1" fill="#78b2e1"/>
<circle cx="1720.17" cy="673.4" r="6.1" fill="#78b2e1"/>
<circle cx="1437.98" cy="686.4" r="6.1" fill="#f8d5a0"/>
<circle cx="1473.25" cy="861.9" r="6.1" fill="#f8d5a0"/>
<circle cx="1508.53" cy="892.4" r="6.1" fill="#f8d5a0"/>
<circle cx="1543.8" cy="890.6" r="6.1" fill="#f8d5a0"/>
<circle cx="1579.08" cy="948.8" r="6.1" fill="#f8d5a0"/>
<circle cx="1614.35" cy="953.6" r="6.1" fill="#f8d5a0"/>
<circle cx="1649.62" cy="934.7" r="6.1" fill="#f8d5a0"/>
<circle cx="1684.9" cy="900.6" r="6.1" fill="#f8d5a0"/>
<circle cx="1720.17" cy="942.8" r="6.1" fill="#f8d5a0"/>
<rect x="1388" y="636" width="346.8" height="346.8" fill="none" stroke="#2b2b2b" stroke-width="2.4"/>
<line x1="1437.98" y1="984" x2="1437.98" y2="995.2" stroke="#7f7f7f" stroke-width="4.3"/>
<text x="1437.98" y="1022.4" font-size="24.9" fill="#4d4d4d" text-anchor="middle">10</text>
<line x1="1508.53" y1="984" x2="1508.53" y2="995.2" stroke="#7f7f7f" stroke-width="4.3"/>
<text x="1508.53" y="1022.4" font-size="24.9" fill="#4d4d4d" text-anchor="middle">20</text>
<line x1="1579.08" y1="984" x2="1579.08" y2="995.2" stroke="#7f7f7f" stroke-width="4.3"/>
<text x="1579.08" y="1022.4" font-size="24.9" fill="#4d4d4d" text-anchor="middle">30</text>
<line x1="1649.62" y1="984" x2="1649.62" y2="995.2" stroke="#7f7f7f" stroke-width="4.3"/>
<text x="1649.62" y="1022.4" font-size="24.9" fill="#4d4d4d" text-anchor="middle">40</text>
<line x1="1720.17" y1="984" x2="1720.17" y2="995.2" stroke="#7f7f7f" stroke-width="4.3"/>
<text x="1720.17" y="1022.4" font-size="24.9" fill="#4d4d4d" text-anchor="middle">50</text>
<text x="1561.4" y="1060.7" font-size="29" fill="#000" text-anchor="middle"># of fractions</text>
<line x1="1375.6" y1="982.3" x2="1386.8" y2="982.3" stroke="#7f7f7f" stroke-width="4.3"/>
<text x="1366.4" y="991.7" font-size="24.9" fill="#4d4d4d" text-anchor="end">0.58</text>
<line x1="1375.6" y1="882.67" x2="1386.8" y2="882.67" stroke="#7f7f7f" stroke-width="4.3"/>
<text x="1366.4" y="892.07" font-size="24.9" fill="#4d4d4d" text-anchor="end">0.60</text>
<line x1="1375.6" y1="783.03" x2="1386.8" y2="783.03" stroke="#7f7f7f" stroke-width="4.3"/>
<text x="1366.4" y="792.43" font-size="24.9" fill="#4d4d4d" text-anchor="end">0.62</text>
<line x1="1375.6" y1="683.4" x2="1386.8" y2="683.4" stroke="#7f7f7f" stroke-width="4.3"/>
<text x="1366.4" y="692.8" font-size="24.9" fill="#4d4d4d" text-anchor="end">0.64</text>
<line x1="1736" y1="961.9" x2="1747.2" y2="961.9" stroke="#7f7f7f" stroke-width="4.3"/>
<text x="1756.3" y="970.8" font-size="24.9" fill="#4d4d4d">0.00</text>
<line x1="1736" y1="874.8" x2="1747.2" y2="874.8" stroke="#7f7f7f" stroke-width="4.3"/>
<text x="1756.3" y="883.7" font-size="24.9" fill="#4d4d4d">0.01</text>
<line x1="1736" y1="787.7" x2="1747.2" y2="787.7" stroke="#7f7f7f" stroke-width="4.3"/>
<text x="1756.3" y="796.6" font-size="24.9" fill="#4d4d4d">0.02</text>
<line x1="1736" y1="700.6" x2="1747.2" y2="700.6" stroke="#7f7f7f" stroke-width="4.3"/>
<text x="1756.3" y="709.5" font-size="24.9" fill="#4d4d4d">0.03</text>
<text x="1300.2" y="809.4" font-size="29" fill="#000" text-anchor="middle" transform="rotate(-90 1300.2 809.4)">AUC</text>
<text x="1824" y="809.4" font-size="29" fill="#000" text-anchor="middle" transform="rotate(90 1824 809.4)">Change in AUC</text>
<text x="1277.2" y="599.6" font-size="41" fill="#000" font-weight="bold">f</text>
<text x="1558.9" y="610.9" font-size="29" fill="#000" text-anchor="middle">Adjacent fractions</text>
<rect x="356.59" y="1178.4" width="35.28" height="344.4" fill="#f2f2f2"/>
<path d="M127.3,1475 L162.57,1363.8 L197.85,1348.6 L233.12,1335.6 L268.4,1307.3 L303.68,1307.3 L338.95,1305.2 L374.22,1298.7 L409.5,1276.9 L444.77,1275.8 L444.77,1306.3 L409.5,1307.3 L374.22,1329.1 L338.95,1334.5 L303.68,1335.6 L268.4,1335.6 L233.12,1359.5 L197.85,1372.5 L162.57,1396.4 L127.3,1490Z" fill="#aaaaaa" fill-opacity="0.2"/>
<path d="M127.3,1440 L162.57,1305.2 L197.85,1272.6 L233.12,1255.2 L268.4,1240 L303.68,1225.9 L338.95,1217.2 L374.22,1211.8 L409.5,1207.4 L444.77,1202 L444.77,1265 L409.5,1269.3 L374.22,1274.8 L338.95,1281.3 L303.68,1290 L268.4,1298.7 L233.12,1311.7 L197.85,1329.1 L162.57,1360 L127.3,1456Z" fill="#78b2e1" fill-opacity="0.18"/>
<path d="M127.3,1482.9 L162.57,1381.2 L197.85,1360.6 L233.12,1347.5 L268.4,1322.1 L303.68,1320 L338.95,1320.8 L374.22,1315.4 L409.5,1292.8 L444.77,1290.6" fill="none" stroke="#aaaaaa" stroke-width="4.7" stroke-linejoin="round" stroke-linecap="butt"/>
<path d="M127.3,1448.1 L162.57,1335.6 L197.85,1303 L233.12,1283.5 L268.4,1268.7 L303.68,1258.5 L338.95,1248.7 L374.22,1243.3 L409.5,1238.9 L444.77,1233.9" fill="none" stroke="#78b2e1" stroke-width="4.7" stroke-linejoin="round" stroke-linecap="butt"/>
<circle cx="127.3" cy="1482.9" r="6.1" fill="#aaaaaa"/>
<circle cx="162.57" cy="1381.2" r="6.1" fill="#aaaaaa"/>
<circle cx="197.85" cy="1360.6" r="6.1" fill="#aaaaaa"/>
<circle cx="233.12" cy="1347.5" r="6.1" fill="#aaaaaa"/>
<circle cx="268.4" cy="1322.1" r="6.1" fill="#aaaaaa"/>
<circle cx="303.68" cy="1320" r="6.1" fill="#aaaaaa"/>
<circle cx="338.95" cy="1320.8" r="6.1" fill="#aaaaaa"/>
<circle cx="374.22" cy="1315.4" r="6.1" fill="#aaaaaa"/>
<circle cx="409.5" cy="1292.8" r="6.1" fill="#aaaaaa"/>
<circle cx="444.77" cy="1290.6" r="6.1" fill="#aaaaaa"/>
<circle cx="127.3" cy="1448.1" r="6.1" fill="#78b2e1"/>
<circle cx="162.57" cy="1335.6" r="6.1" fill="#78b2e1"/>
<circle cx="197.85" cy="1303" r="6.1" fill="#78b2e1"/>
<circle cx="233.12" cy="1283.5" r="6.1" fill="#78b2e1"/>
<circle cx="268.4" cy="1268.7" r="6.1" fill="#78b2e1"/>
<circle cx="303.68" cy="1258.5" r="6.1" fill="#78b2e1"/>
<circle cx="338.95" cy="1248.7" r="6.1" fill="#78b2e1"/>
<circle cx="374.22" cy="1243.3" r="6.1" fill="#78b2e1"/>
<circle cx="409.5" cy="1238.9" r="6.1" fill="#78b2e1"/>
<circle cx="444.77" cy="1233.9" r="6.1" fill="#78b2e1"/>
<rect x="112.6" y="1177.2" width="346.8" height="346.8" fill="none" stroke="#2b2b2b" stroke-width="2.4"/>
<line x1="162.57" y1="1525.2" x2="162.57" y2="1536.4" stroke="#7f7f7f" stroke-width="4.3"/>
<text x="162.57" y="1563.6" font-size="24.9" fill="#4d4d4d" text-anchor="middle">10</text>
<line x1="233.12" y1="1525.2" x2="233.12" y2="1536.4" stroke="#7f7f7f" stroke-width="4.3"/>
<text x="233.12" y="1563.6" font-size="24.9" fill="#4d4d4d" text-anchor="middle">20</text>
<line x1="303.68" y1="1525.2" x2="303.68" y2="1536.4" stroke="#7f7f7f" stroke-width="4.3"/>
<text x="303.68" y="1563.6" font-size="24.9" fill="#4d4d4d" text-anchor="middle">30</text>
<line x1="374.22" y1="1525.2" x2="374.22" y2="1536.4" stroke="#7f7f7f" stroke-width="4.3"/>
<text x="374.22" y="1563.6" font-size="24.9" fill="#4d4d4d" text-anchor="middle">40</text>
<line x1="444.77" y1="1525.2" x2="444.77" y2="1536.4" stroke="#7f7f7f" stroke-width="4.3"/>
<text x="444.77" y="1563.6" font-size="24.9" fill="#4d4d4d" text-anchor="middle">50</text>
<text x="286" y="1601.9" font-size="29" fill="#000" text-anchor="middle"># of fractions</text>
<line x1="100.2" y1="1508.7" x2="111.4" y2="1508.7" stroke="#7f7f7f" stroke-width="4.3"/>
<text x="91" y="1518.1" font-size="24.9" fill="#4d4d4d" text-anchor="end">0.58</text>
<line x1="100.2" y1="1438.4" x2="111.4" y2="1438.4" stroke="#7f7f7f" stroke-width="4.3"/>
<text x="91" y="1447.8" font-size="24.9" fill="#4d4d4d" text-anchor="end">0.60</text>
<line x1="100.2" y1="1368.1" x2="111.4" y2="1368.1" stroke="#7f7f7f" stroke-width="4.3"/>
<text x="91" y="1377.5" font-size="24.9" fill="#4d4d4d" text-anchor="end">0.62</text>
<line x1="100.2" y1="1297.8" x2="111.4" y2="1297.8" stroke="#7f7f7f" stroke-width="4.3"/>
<text x="91" y="1307.2" font-size="24.9" fill="#4d4d4d" text-anchor="end">0.64</text>
<line x1="100.2" y1="1227.5" x2="111.4" y2="1227.5" stroke="#7f7f7f" stroke-width="4.3"/>
<text x="91" y="1236.9" font-size="24.9" fill="#4d4d4d" text-anchor="end">0.66</text>
<text x="25" y="1350.6" font-size="29" fill="#000" text-anchor="middle" transform="rotate(-90 25 1350.6)">AUC</text>
<text x="-0.5" y="1130.8" font-size="41" fill="#000" font-weight="bold">g</text>
<rect x="905.58" y="1178.4" width="39.65" height="344.4" fill="#f2f2f2"/>
<path d="M687.5,1192 L727.15,1377 L766.8,1413.8 L806.45,1416 L846.1,1478 L885.75,1483 L925.4,1466 L965.05,1430 L1004.7,1470 L1004.7,1496 L965.05,1454 L925.4,1488 L885.75,1508.3 L846.1,1503 L806.45,1448.6 L766.8,1450.7 L727.15,1428 L687.5,1262Z" fill="#aaaaaa" fill-opacity="0.2"/>
<path d="M687.5,1200 L727.15,1418 L766.8,1449 L806.45,1462 L846.1,1474 L885.75,1474 L925.4,1485.3 L965.05,1487.4 L1004.7,1485.3 L1004.7,1495.3 L965.05,1497.4 L925.4,1495.3 L885.75,1484 L846.1,1484 L806.45,1472 L766.8,1459 L727.15,1429 L687.5,1250Z" fill="#78b2e1" fill-opacity="0.18"/>
<path d="M687.5,1228 L727.15,1403 L766.8,1433.8 L806.45,1433.4 L846.1,1490.4 L885.75,1495.9 L925.4,1476.8 L965.05,1442.5 L1004.7,1483.3" fill="none" stroke="#aaaaaa" stroke-width="4.7" stroke-linejoin="round" stroke-linecap="butt"/>
<path d="M687.5,1225.2 L727.15,1423.6 L766.8,1454 L806.45,1467 L846.1,1479 L885.75,1479 L925.4,1490.3 L965.05,1492.4 L1004.7,1490.3" fill="none" stroke="#78b2e1" stroke-width="4.7" stroke-linejoin="round" stroke-linecap="butt"/>
<circle cx="687.5" cy="1228" r="6.1" fill="#aaaaaa"/>
<circle cx="727.15" cy="1403" r="6.1" fill="#aaaaaa"/>
<circle cx="766.8" cy="1433.8" r="6.1" fill="#aaaaaa"/>
<circle cx="806.45" cy="1433.4" r="6.1" fill="#aaaaaa"/>
<circle cx="846.1" cy="1490.4" r="6.1" fill="#aaaaaa"/>
<circle cx="885.75" cy="1495.9" r="6.1" fill="#aaaaaa"/>
<circle cx="925.4" cy="1476.8" r="6.1" fill="#aaaaaa"/>
<circle cx="965.05" cy="1442.5" r="6.1" fill="#aaaaaa"/>
<circle cx="1004.7" cy="1483.3" r="6.1" fill="#aaaaaa"/>
<circle cx="687.5" cy="1225.2" r="6.1" fill="#78b2e1"/>
<circle cx="727.15" cy="1423.6" r="6.1" fill="#78b2e1"/>
<circle cx="766.8" cy="1454" r="6.1" fill="#78b2e1"/>
<circle cx="806.45" cy="1467" r="6.1" fill="#78b2e1"/>
<circle cx="846.1" cy="1479" r="6.1" fill="#78b2e1"/>
<circle cx="885.75" cy="1479" r="6.1" fill="#78b2e1"/>
<circle cx="925.4" cy="1490.3" r="6.1" fill="#78b2e1"/>
<circle cx="965.05" cy="1492.4" r="6.1" fill="#78b2e1"/>
<circle cx="1004.7" cy="1490.3" r="6.1" fill="#78b2e1"/>
<rect x="672.8" y="1177.2" width="346.8" height="346.8" fill="none" stroke="#2b2b2b" stroke-width="2.4"/>
<line x1="687.5" y1="1525.2" x2="687.5" y2="1536.4" stroke="#7f7f7f" stroke-width="4.3"/>
<text x="687.5" y="1563.6" font-size="24.9" fill="#4d4d4d" text-anchor="middle">10</text>
<line x1="766.8" y1="1525.2" x2="766.8" y2="1536.4" stroke="#7f7f7f" stroke-width="4.3"/>
<text x="766.8" y="1563.6" font-size="24.9" fill="#4d4d4d" text-anchor="middle">20</text>
<line x1="846.1" y1="1525.2" x2="846.1" y2="1536.4" stroke="#7f7f7f" stroke-width="4.3"/>
<text x="846.1" y="1563.6" font-size="24.9" fill="#4d4d4d" text-anchor="middle">30</text>
<line x1="925.4" y1="1525.2" x2="925.4" y2="1536.4" stroke="#7f7f7f" stroke-width="4.3"/>
<text x="925.4" y="1563.6" font-size="24.9" fill="#4d4d4d" text-anchor="middle">40</text>
<line x1="1004.7" y1="1525.2" x2="1004.7" y2="1536.4" stroke="#7f7f7f" stroke-width="4.3"/>
<text x="1004.7" y="1563.6" font-size="24.9" fill="#4d4d4d" text-anchor="middle">50</text>
<text x="846.2" y="1601.9" font-size="29" fill="#000" text-anchor="middle"># of fractions</text>
<line x1="660.4" y1="1503.7" x2="671.6" y2="1503.7" stroke="#7f7f7f" stroke-width="4.3"/>
<text x="651.2" y="1513.1" font-size="24.9" fill="#4d4d4d" text-anchor="end">0.00</text>
<line x1="660.4" y1="1416.5" x2="671.6" y2="1416.5" stroke="#7f7f7f" stroke-width="4.3"/>
<text x="651.2" y="1425.9" font-size="24.9" fill="#4d4d4d" text-anchor="end">0.01</text>
<line x1="660.4" y1="1329.3" x2="671.6" y2="1329.3" stroke="#7f7f7f" stroke-width="4.3"/>
<text x="651.2" y="1338.7" font-size="24.9" fill="#4d4d4d" text-anchor="end">0.02</text>
<line x1="660.4" y1="1242.1" x2="671.6" y2="1242.1" stroke="#7f7f7f" stroke-width="4.3"/>
<text x="651.2" y="1251.5" font-size="24.9" fill="#4d4d4d" text-anchor="end">0.03</text>
<text x="585" y="1350.6" font-size="29" fill="#000" text-anchor="middle" transform="rotate(-90 585 1350.6)">Change in AUC</text>
<text x="549.8" y="1130.8" font-size="41" fill="#000" font-weight="bold">h</text>
<line x1="1902.8" y1="242.8" x2="1930.8" y2="242.8" stroke="#78b2e1" stroke-width="4.7"/>
<circle cx="1916.8" cy="242.8" r="5.699999999999999" fill="#78b2e1"/>
<text x="1947.8" y="251.7" font-size="24.8" fill="#000">AUC</text>
<line x1="1902.8" y1="280.9" x2="1930.8" y2="280.9" stroke="#f8d5a0" stroke-width="4.7"/>
<circle cx="1916.8" cy="280.9" r="5.699999999999999" fill="#f8d5a0"/>
<text x="1947.8" y="289.8" font-size="24.8" fill="#000">Change in AUC</text>
<line x1="1904.3" y1="788.7" x2="1932.3" y2="788.7" stroke="#78b2e1" stroke-width="4.7"/>
<circle cx="1918.3" cy="788.7" r="5.699999999999999" fill="#78b2e1"/>
<text x="1949.1" y="797.6" font-size="24.8" fill="#000">AUC</text>
<line x1="1904.3" y1="826.5" x2="1932.3" y2="826.5" stroke="#f8d5a0" stroke-width="4.7"/>
<circle cx="1918.3" cy="826.5" r="5.699999999999999" fill="#f8d5a0"/>
<text x="1949.1" y="835.4" font-size="24.8" fill="#000">Change in AUC</text>
<line x1="1074.9" y1="770.2" x2="1102.9" y2="770.2" stroke="#99d08f" stroke-width="4.7"/>
<circle cx="1088.9" cy="770.2" r="5.699999999999999" fill="#99d08f"/>
<text x="1119.3" y="779.1" font-size="24.8" fill="#000">IEX</text>
<line x1="1074.9" y1="807.8" x2="1102.9" y2="807.8" stroke="#f08a3c" stroke-width="4.7"/>
<circle cx="1088.9" cy="807.8" r="5.699999999999999" fill="#f08a3c"/>
<text x="1119.3" y="816.7" font-size="24.8" fill="#000">N−PAGE</text>
<line x1="1074.9" y1="845.3" x2="1102.9" y2="845.3" stroke="#5ca3d3" stroke-width="4.7"/>
<circle cx="1088.9" cy="845.3" r="5.699999999999999" fill="#5ca3d3"/>
<text x="1119.3" y="854.2" font-size="24.8" fill="#000">SEC</text>
<line x1="1075" y1="1330.6" x2="1103" y2="1330.6" stroke="#aaaaaa" stroke-width="4.7"/>
<circle cx="1089" cy="1330.6" r="5.699999999999999" fill="#aaaaaa"/>
<text x="1119.4" y="1339.5" font-size="24.8" fill="#000">Adjacent fractions</text>
<line x1="1075" y1="1368.2" x2="1103" y2="1368.2" stroke="#78b2e1" stroke-width="4.7"/>
<circle cx="1089" cy="1368.2" r="5.699999999999999" fill="#78b2e1"/>
<text x="1119.4" y="1377.1" font-size="24.8" fill="#000">Random fractions</text></svg>
</body></html>
